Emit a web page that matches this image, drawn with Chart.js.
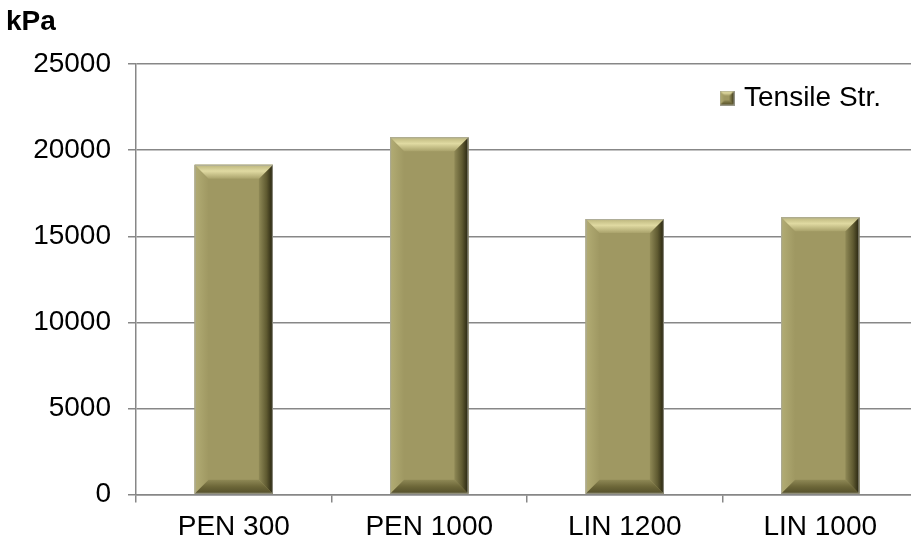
<!DOCTYPE html>
<html>
<head>
<meta charset="utf-8">
<title>Tensile Strength</title>
<script src="https://cdn.jsdelivr.net/npm/chart.js@4.4.1/dist/chart.umd.min.js"></script>
<style>
  html, body { margin: 0; padding: 0; background: #ffffff; overflow: hidden; }
  #wrap { width: 920px; height: 544px; }
</style>
</head>
<body>
<div id="wrap"><canvas id="chart" width="920" height="544"></canvas></div>
<script>
// ---- data ----
const categories = ['PEN 300', 'PEN 1000', 'LIN 1200', 'LIN 1000'];
const tensileStrength = [19150, 20750, 16000, 16100];
const seriesName = 'Tensile Str.';
const unitLabel = 'kPa';
const yTickValues = [0, 5000, 10000, 15000, 20000, 25000];
const yTickLabels = ['0', '5000', '10000', '15000', '20000', '25000'];

// ---- styling ----
const FONT = '"Liberation Sans", Arial, sans-serif';
const FACE = '#9f9862';
const GRID = '#878787';

function poly(ctx, pts) {
  ctx.beginPath();
  ctx.moveTo(pts[0][0], pts[0][1]);
  for (let i = 1; i < pts.length; i++) ctx.lineTo(pts[i][0], pts[i][1]);
  ctx.closePath();
}

// Beveled olive block: flat face with lit top/left edges and shaded right/bottom edges
function drawBevel(ctx, l, t, r, b, size) {
  const w = r - l, h = b - t;
  const s = Math.min(size, w / 2, h / 2);
  ctx.save();
  ctx.fillStyle = FACE;
  ctx.fillRect(l, t, w, h);

  let g = ctx.createLinearGradient(l, 0, l + s, 0);
  g.addColorStop(0, '#b2ac74');
  g.addColorStop(1, FACE);
  ctx.fillStyle = g;
  poly(ctx, [[l, t], [l + s, t + s], [l + s, b - s], [l, b]]);
  ctx.fill();

  g = ctx.createLinearGradient(0, b - s, 0, b);
  g.addColorStop(0, '#8e8855');
  g.addColorStop(0.5, '#6c6638');
  g.addColorStop(1, '#534e2a');
  ctx.fillStyle = g;
  poly(ctx, [[l, b], [l + s, b - s], [r - s, b - s], [r, b]]);
  ctx.fill();

  g = ctx.createLinearGradient(r - s, 0, r, 0);
  g.addColorStop(0, '#8f8956');
  g.addColorStop(0.55, '#5f5a31');
  g.addColorStop(1, '#25220e');
  ctx.fillStyle = g;
  poly(ctx, [[r, t], [r, b], [r - s, b - s], [r - s, t + s]]);
  ctx.fill();

  g = ctx.createLinearGradient(0, t, 0, t + s);
  g.addColorStop(0, '#bbb57c');
  g.addColorStop(0.45, '#e0daa2');
  g.addColorStop(1, '#a9a26b');
  ctx.fillStyle = g;
  poly(ctx, [[l, t], [r, t], [r - s, t + s], [l + s, t + s]]);
  ctx.fill();

  ctx.strokeStyle = 'rgba(170,170,160,0.8)';
  ctx.lineWidth = 1;
  ctx.strokeRect(l + 0.5, t + 0.5, w - 1, h - 1);
  ctx.restore();
}

// small beveled square used as the legend marker
const legendIcon = document.createElement('canvas');
legendIcon.width = 15;
legendIcon.height = 15;
drawBevel(legendIcon.getContext('2d'), 0, 0, 15, 15, 5);

const bevelBars = {
  id: 'bevelBars',
  afterDatasetsDraw(chart) {
    const ctx = chart.ctx;
    chart.getSortedVisibleDatasetMetas().forEach(meta => {
      if (meta.type !== 'bar') return;
      meta.data.forEach(el => {
        const p = el.getProps(['x', 'y', 'base', 'width'], true);
        drawBevel(ctx, p.x - p.width / 2, Math.min(p.y, p.base),
                  p.x + p.width / 2, Math.max(p.y, p.base), 14);
      });
    });
  }
};

// legend sits inside the plot, upper right
const legendPlacement = {
  id: 'legendPlacement',
  afterLayout(chart) {
    const lg = chart.legend;
    if (!lg) return;
    lg.left = 714;
    lg.right = chart.width;
    lg.top = 74;
    lg.bottom = chart.chartArea.bottom;
    lg.width = lg.right - lg.left;
    lg.height = lg.bottom - lg.top;
  }
};

new Chart(document.getElementById('chart'), {
  type: 'bar',
  data: {
    labels: categories,
    datasets: [{
      label: seriesName,
      data: tensileStrength,
      backgroundColor: FACE,
      borderWidth: 0,
      categoryPercentage: 1.0,
      barPercentage: 0.4
    }]
  },
  options: {
    responsive: false,
    animation: false,
    devicePixelRatio: 1,
    layout: { padding: { left: 6, right: 2, top: 0, bottom: 0 } },
    scales: {
      x: {
        offset: true,
        grid: {
          display: true,
          drawOnChartArea: false,
          offset: true,
          tickLength: 8,
          color: GRID,
          lineWidth: 1.5
        },
        border: { display: true, color: GRID, width: 1.5 },
        ticks: {
          color: '#000000',
          padding: 8,
          maxRotation: 0,
          font: { family: FONT, size: 28 }
        },
        afterFit(scale) { scale.height = 49.5; }
      },
      y: {
        min: yTickValues[0],
        max: yTickValues[yTickValues.length - 1],
        grid: {
          color: GRID,
          lineWidth: 1.5,
          tickLength: 8
        },
        border: { display: true, color: GRID, width: 1.5 },
        afterBuildTicks(scale) {
          scale.ticks = yTickValues.map(v => ({ value: v }));
        },
        ticks: {
          color: '#000000',
          padding: 17,
          font: { family: FONT, size: 28 },
          callback(value) {
            const i = yTickValues.indexOf(value);
            return i >= 0 ? yTickLabels[i] : '';
          }
        },
        afterFit(scale) { scale.width = 130; }
      }
    },
    plugins: {
      title: {
        display: true,
        text: unitLabel,
        align: 'start',
        color: '#000000',
        font: { family: FONT, size: 28, weight: 'bold' },
        padding: { top: 5.5, bottom: 25 }
      },
      legend: {
        display: true,
        position: 'chartArea',
        align: 'start',
        labels: {
          usePointStyle: true,
          pointStyle: legendIcon,
          pointStyleWidth: 6,
          boxHeight: 15,
          padding: 10,
          color: '#000000',
          font: { family: FONT, size: 28 }
        }
      },
      tooltip: { enabled: false }
    }
  },
  plugins: [bevelBars, legendPlacement]
});
</script>
</body>
</html>
